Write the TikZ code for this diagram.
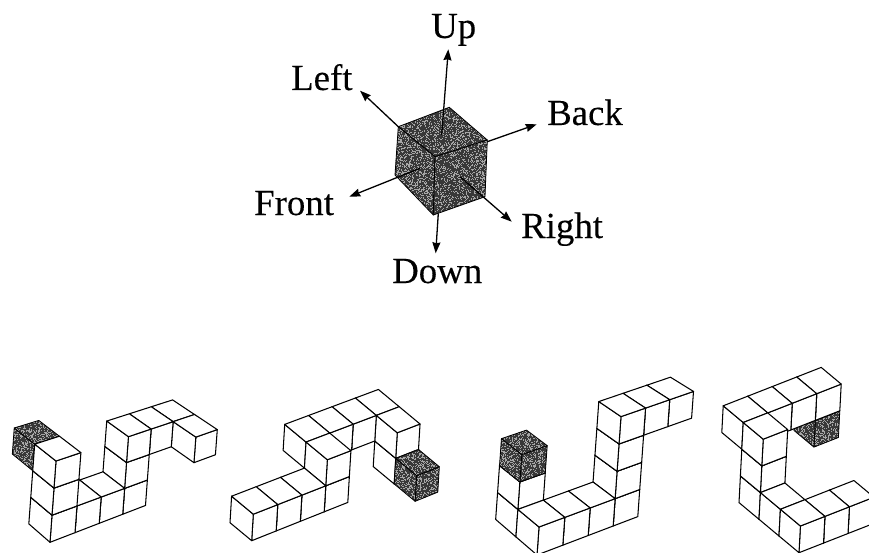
\documentclass[tikz,border=0pt]{standalone}
\usepackage{fontspec}
\setmainfont[FakeBold=0.2]{Liberation Serif}
\usetikzlibrary{arrows.meta,calc}
\tikzset{
  edge/.style={draw=black,line width=1.05pt,line join=round},
  whiteface/.style={edge,fill=white},
  dirarrow/.style={draw=black,line width=1.3pt,-{Stealth[length=11pt,width=8pt,inset=1pt]}},
  dirlabel/.style={anchor=base west,inner sep=0pt,font=\fontsize{36.8}{40}\selectfont},
  darkface/.style={fill=black!78},
  speck/.style={fill=black!35}
}
% view: origin, a-, b-, c-vectors, perspective in a and b
\newcommand\setview[8]{\def\Ox{#1}\def\Oy{#2}\def\Ax{#3}\def\Ay{#4}\def\Bx{#5}\def\By{#6}\def\Cx{#7}\def\Cy{#8}}
\newcommand\setpersp[2]{\def\Pa{#1}\def\Pb{#2}}
\newcommand\defpt[4]{%
  \pgfmathsetmacro\wW{1+\Pa*(#2)+\Pb*(#3)}%
  \pgfmathsetmacro\pX{\Ox+((#2)*\Ax+(#3)*\Bx+(#4)*\Cx)/\wW}%
  \pgfmathsetmacro\pY{\Oy+((#2)*\Ay+(#3)*\By+(#4)*\Cy)/\wW}%
  \coordinate (#1) at (\pX,\pY);}
\newcommand\cubepts[3]{%
  \defpt{p0}{#1}{#2}{#3}\defpt{pa}{#1+1}{#2}{#3}\defpt{pb}{#1}{#2+1}{#3}%
  \defpt{pc}{#1}{#2}{#3+1}\defpt{pac}{#1+1}{#2}{#3+1}\defpt{pbc}{#1}{#2+1}{#3+1}%
  \defpt{pabc}{#1+1}{#2+1}{#3+1}}
\newcommand\wcube[3]{\cubepts{#1}{#2}{#3}%
  \path[whiteface] (p0)--(pa)--(pac)--(pc)--cycle;
  \path[whiteface] (p0)--(pb)--(pbc)--(pc)--cycle;
  \path[whiteface] (pc)--(pac)--(pabc)--(pbc)--cycle;}
% speckled face: corners in order, number of specks
\newcommand\sface[5]{%
  \path[darkface] (#1)--(#2)--(#3)--(#4)--cycle;
  \foreach \n in {1,...,#5}{%
    \pgfmathsetmacro\uU{rnd}\pgfmathsetmacro\vV{rnd}%
    \fill[speck] ($($(#1)!\uU!(#2)$)!\vV!($(#4)!\uU!(#3)$)$) ++(-0.5,-0.5) rectangle ++(1,1);
  }
  \path[edge,line width=0.8pt] (#1)--(#2)--(#3)--(#4)--cycle;}
\newcommand\scube[4]{\cubepts{#1}{#2}{#3}%
  \sface{p0}{pa}{pac}{pc}{#4}
  \sface{p0}{pb}{pbc}{pc}{#4}
  \sface{pc}{pac}{pabc}{pbc}{#4}}
\begin{document}
\begin{tikzpicture}[x=1pt,y=-1pt]
\pgfmathsetseed{4711}
\useasboundingbox (0,0) rectangle (869,553);
\begin{scope}
\clip (0,0) rectangle (869,553);
% central cube
\coordinate (tb) at (449.3,107.3);
\coordinate (tl) at (398.3,126.7);
\coordinate (ft) at (435,156.7);
\coordinate (tr) at (487.3,140);
\coordinate (bl) at (395,175);
\coordinate (bf) at (433.3,215);
\coordinate (br) at (485,196.7);
\sface{tl}{ft}{tr}{tb}{800}
\sface{tl}{ft}{bf}{bl}{850}
\sface{ft}{tr}{br}{bf}{1000}
% direction labels
\node[dirlabel] (up) at (431,38) {Up};
\node[dirlabel] (left) at (291,90) {Left};
\node[dirlabel] (back) at (547,125) {Back};
\node[dirlabel] (front) at (254,215) {Front};
\node[dirlabel] (right) at (521,238) {Right};
\node[dirlabel] (down) at (392,283) {Down};
% arrows
\coordinate (us) at (441.7,135); \coordinate (ue) at (448.3,49.3);
\coordinate (ls) at (398.3,126.7); \coordinate (le) at (360,90.7);
\coordinate (bs) at (487.3,141.7); \coordinate (be) at (536.7,124.3);
\coordinate (fs) at (420,168.3); \coordinate (fe) at (349.3,196.7);
\coordinate (rs) at (460,176.7); \coordinate (re) at (511.7,221.7);
\coordinate (ds) at (438.3,213.3); \coordinate (de) at (435.7,253.3);
\draw[dirarrow] (us)--(ue);
\draw[dirarrow] (ls)--(le);
\draw[dirarrow] (bs)--(be);
\draw[dirarrow] (fs)--(fe);
\draw[dirarrow] (rs)--(re);
\draw[dirarrow] (ds)--(de);
% figure 1
\setview{50}{542.3}{25.4}{-9.8}{-21.6}{-18.8}{2}{-27.1}\setpersp{0.016}{0.02}
\wcube{5}{0}{2}\wcube{5}{-1}{2}\wcube{4}{0}{2}
\wcube{3}{0}{0}\wcube{3}{0}{1}\wcube{3}{0}{2}
\wcube{2}{0}{0}\wcube{1}{0}{0}
\scube{0}{1}{2}{230}
\wcube{0}{0}{0}\wcube{0}{0}{1}\wcube{0}{0}{2}
% figure 2
\setview{251.7}{540.7}{24.6}{-9.8}{-21.7}{-18}{1.6}{-26.5}\setpersp{0.006}{0}
\wcube{6}{1}{1}\wcube{6}{0}{0}\wcube{6}{0}{1}
\scube{6}{-1}{0}{230}
\wcube{5}{1}{1}\wcube{4}{1}{1}\wcube{3}{1}{1}
\wcube{3}{0}{0}\wcube{3}{0}{1}
\wcube{2}{0}{0}\wcube{1}{0}{0}\wcube{0}{0}{0}
% figure 3
\setview{537}{555}{26}{-9.9}{-21.5}{-18.5}{2}{-28}\setpersp{0.008}{0.02}
\wcube{5}{0}{3}\wcube{4}{0}{3}
\wcube{3}{0}{0}\wcube{3}{0}{1}\wcube{3}{0}{2}\wcube{3}{0}{3}
\wcube{2}{0}{0}\wcube{1}{0}{0}
\wcube{0}{1}{0}\wcube{0}{1}{1}
\scube{0}{1}{2}{230}
\wcube{0}{0}{0}
% figure 4
\setview{799}{552.7}{24.5}{-9.6}{-20}{-16.7}{1.4}{-26.7}\setpersp{0}{0}
\scube{3}{3}{1}{230}
\wcube{3}{3}{2}\wcube{2}{3}{2}\wcube{2}{0}{0}
\wcube{1}{3}{2}\wcube{1}{0}{0}
\wcube{0}{3}{2}\wcube{0}{2}{0}\wcube{0}{2}{1}\wcube{0}{2}{2}
\wcube{0}{1}{0}\wcube{0}{0}{0}
\end{scope}
\end{tikzpicture}
\end{document}
